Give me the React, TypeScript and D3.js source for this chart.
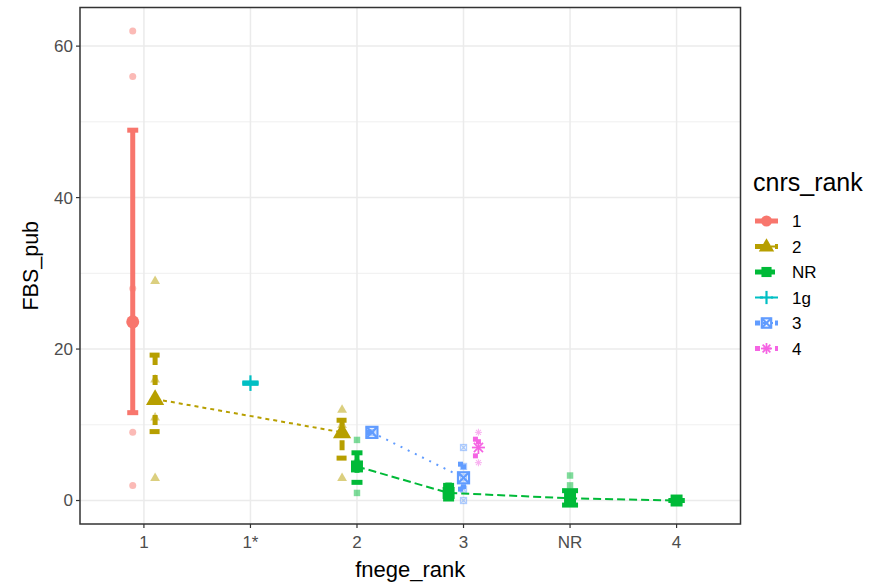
import * as d3 from "d3";

// categories on the x axis and the colour groups
const ranks = ["1", "1*", "2", "3", "NR", "4"];
const groups = ["1", "2", "NR", "1g", "3", "4"];
const groupColors = ["#F8766D", "#B79F00", "#00BA38", "#00BFC4", "#619CFF", "#F564E3"];
const groupDash = ["", "2 2", "4 2", "4 4", "1 3", "1 3 4 3"];

// summaries (mean and interval) per rank/group
const sumRank = ["1", "1", "1*", "2", "2", "2", "3", "3", "3", "NR", "4"];
const sumGroup = ["1", "2", "1g", "2", "NR", "3", "NR", "3", "4", "NR", "NR"];
const sumMean = [23.6, 13.4, 15.5, 9.0, 4.5, 9.0, 1.0, 3.0, 7.0, 0.3, 0];
const sumLow = [11.6, 9.1, 15.5, 5.6, 2.4, 9.0, 0.2, 1.5, 5.9, -0.6, 0];
const sumHigh = [48.9, 19.2, 15.5, 10.6, 6.3, 9.0, 2.0, 4.8, 8.1, 1.3, 0];

// raw observations
const rawRank = ["1", "1", "1", "1", "1", "1", "1", "1", "1", "1*", "2", "2", "2", "2", "2", "2", "2", "3", "3", "3", "3", "3", "3", "3", "3", "3", "3", "NR", "NR", "NR", "4"];
const rawGroup = ["1", "1", "1", "1", "1", "2", "2", "2", "2", "1g", "2", "2", "NR", "NR", "NR", "3", "2", "NR", "NR", "3", "3", "3", "3", "3", "4", "4", "4", "NR", "NR", "NR", "NR"];
const rawValue = [62, 56, 28, 9, 2, 29, 16, 11, 3, 15.5, 12, 3, 8, 1, 5, 9, 10, 2, 1, 7, 4.5, 3, 0, 1.5, 9, 7, 5, 3.3, 2, 1, 0];

const yTicks = [0, 20, 40, 60];
const yMinor = [10, 30, 50];

const W = 876;
const H = 586;
const panel = { left: 80, right: 740.5, top: 7.5, bottom: 524 };
const font = "'Liberation Sans', Arial, sans-serif";

const x = d3.scalePoint<string>().domain(ranks).range([panel.left, panel.right]).padding(0.6);
const step = x.step();
const y = d3.scaleLinear().domain([-3.1, 65.1]).range([panel.bottom, panel.top]);
const color = d3.scaleOrdinal<string, string>().domain(groups).range(groupColors);
const dashOf = (g: string, lw: number) => {
  const d = groupDash[groups.indexOf(g)];
  return d ? d.split(" ").map((v) => +v * lw).join(" ") : undefined;
};

// position_dodge: groups present at a rank share a 0.42 wide slot
const dodgeWidth = 0.42 * step;
function groupsAt(rank: string) {
  return groups.filter((g) => sumRank.some((r, i) => r === rank && sumGroup[i] === g));
}
function dodgeX(rank: string, group: string) {
  const present = groupsAt(rank);
  const w = dodgeWidth / present.length;
  return (x(rank) as number) - dodgeWidth / 2 + w * (present.indexOf(group) + 0.5);
}

function Shape({ g, cx, cy, s, fill, opacity = 1 }: { g: string; cx: number; cy: number; s: number; fill: string; opacity?: number }) {
  const h = s / 2;
  if (g === "1") return <circle cx={cx} cy={cy} r={h} fill={fill} opacity={opacity} />;
  if (g === "2") {
    const t = d3.symbol(d3.symbolTriangle, s * s * 0.85)();
    return <path d={t || ""} transform={`translate(${cx},${cy + s * 0.05})`} fill={fill} opacity={opacity} />;
  }
  if (g === "NR") return <rect x={cx - h * 0.92} y={cy - h * 0.92} width={s * 0.92} height={s * 0.92} fill={fill} opacity={opacity} />;
  const sw = s > 8 ? 2.2 : 1.3;
  if (g === "1g")
    return (
      <g stroke={fill} strokeWidth={sw} opacity={opacity}>
        <line x1={cx - h * 1.2} x2={cx + h * 1.2} y1={cy} y2={cy} />
        <line x1={cx} x2={cx} y1={cy - h * 1.2} y2={cy + h * 1.2} />
      </g>
    );
  if (g === "3") {
    const a = h * 0.85;
    return (
      <g stroke={fill} strokeWidth={sw} fill="none" opacity={opacity}>
        <rect x={cx - a} y={cy - a} width={2 * a} height={2 * a} />
        <line x1={cx - a} x2={cx + a} y1={cy - a} y2={cy + a} />
        <line x1={cx - a} x2={cx + a} y1={cy + a} y2={cy - a} />
      </g>
    );
  }
  const a = h * 1.0;
  return (
    <g stroke={fill} strokeWidth={sw * 0.8} opacity={opacity}>
      <line x1={cx - a} x2={cx + a} y1={cy} y2={cy} />
      <line x1={cx} x2={cx} y1={cy - a} y2={cy + a} />
      <line x1={cx - a * 0.7} x2={cx + a * 0.7} y1={cy - a * 0.7} y2={cy + a * 0.7} />
      <line x1={cx - a * 0.7} x2={cx + a * 0.7} y1={cy + a * 0.7} y2={cy - a * 0.7} />
    </g>
  );
}

export default function App() {
  const errLw = 5;
  const lineLw = 2;
  const line = d3.line<number>().x((i) => dodgeX(sumRank[i], sumGroup[i])).y((i) => y(sumMean[i]));

  return (
    <svg width={W} height={H} style={{ position: "absolute", left: 0, top: 0, background: "#fff" }} fontFamily={font}>
      {/* grid */}
      {yMinor.map((v) => (
        <line key={"m" + v} x1={panel.left} x2={panel.right} y1={y(v)} y2={y(v)} stroke="#ebebeb" strokeWidth={0.8} />
      ))}
      {yTicks.map((v) => (
        <line key={"y" + v} x1={panel.left} x2={panel.right} y1={y(v)} y2={y(v)} stroke="#ebebeb" strokeWidth={1.5} />
      ))}
      {ranks.map((r) => (
        <line key={"x" + r} x1={x(r)} x2={x(r)} y1={panel.top} y2={panel.bottom} stroke="#ebebeb" strokeWidth={1.5} />
      ))}

      {/* raw points */}
      {rawValue.map((v, i) => (
        <Shape key={"r" + i} g={rawGroup[i]} cx={dodgeX(rawRank[i], rawGroup[i])} cy={y(v)} s={7} fill={color(rawGroup[i])} opacity={0.5} />
      ))}

      {/* lines joining means */}
      {groups.map((g) => {
        const idx = sumMean.map((_, i) => i).filter((i) => sumGroup[i] === g);
        if (idx.length < 2) return null;
        return <path key={"l" + g} d={line(idx) || ""} fill="none" stroke={color(g)} strokeWidth={lineLw} strokeDasharray={dashOf(g, lineLw)} />;
      })}

      {/* error bars */}
      {sumMean.map((_, i) => {
        const g = sumGroup[i];
        const cx = dodgeX(sumRank[i], g);
        const half = groupsAt(sumRank[i]).length === 1 ? 8 : 5.5;
        const da = dashOf(g, errLw);
        return (
          <g key={"e" + i} stroke={color(g)} strokeWidth={errLw} strokeDasharray={da}>
            <line x1={cx - half} x2={cx + half} y1={y(sumHigh[i])} y2={y(sumHigh[i])} />
            <line x1={cx} x2={cx} y1={y(sumHigh[i])} y2={y(sumLow[i])} />
            <line x1={cx - half} x2={cx + half} y1={y(sumLow[i])} y2={y(sumLow[i])} />
          </g>
        );
      })}

      {/* means */}
      {sumMean.map((v, i) => (
        <Shape key={"p" + i} g={sumGroup[i]} cx={dodgeX(sumRank[i], sumGroup[i])} cy={y(v)} s={13} fill={color(sumGroup[i])} />
      ))}

      {/* panel border */}
      <rect x={panel.left} y={panel.top} width={panel.right - panel.left} height={panel.bottom - panel.top} fill="none" stroke="#333333" strokeWidth={1.5} />

      {/* y axis */}
      {yTicks.map((v) => (
        <g key={"yt" + v}>
          <line x1={panel.left - 4} x2={panel.left} y1={y(v)} y2={y(v)} stroke="#333333" strokeWidth={1.2} />
          <text x={panel.left - 7} y={y(v)} dy="0.35em" textAnchor="end" fontSize={17} fill="#4d4d4d">
            {v}
          </text>
        </g>
      ))}
      {/* x axis */}
      {ranks.map((r) => (
        <g key={"xt" + r}>
          <line x1={x(r)} x2={x(r)} y1={panel.bottom} y2={panel.bottom + 4} stroke="#333333" strokeWidth={1.2} />
          <text x={x(r)} y={panel.bottom + 24} textAnchor="middle" fontSize={17} fill="#4d4d4d">
            {r}
          </text>
        </g>
      ))}
      <text x={(panel.left + panel.right) / 2} y={577} textAnchor="middle" fontSize={22} fill="#000">
        fnege_rank
      </text>
      <text transform={`translate(38,${(panel.top + panel.bottom) / 2}) rotate(-90)`} textAnchor="middle" fontSize={21.5} fill="#000">
        FBS_pub
      </text>

      {/* legend */}
      <text x={753} y={191} fontSize={25} fill="#000">
        cnrs_rank
      </text>
      {groups.map((g, i) => {
        const ky = 221 + i * 25.5;
        const hasRange = sumGroup.some((sg, j) => sg === g && sumHigh[j] > sumLow[j]);
        return (
          <g key={"k" + g}>
            {hasRange && <line x1={755} x2={778} y1={ky} y2={ky} stroke={color(g)} strokeWidth={errLw} strokeDasharray={dashOf(g, errLw)} />}
            <line x1={755} x2={778} y1={ky} y2={ky} stroke={color(g)} strokeWidth={lineLw} strokeDasharray={dashOf(g, lineLw)} />
            <Shape g={g} cx={766.5} cy={ky} s={11} fill={color(g)} />
            <text x={792} y={ky} dy="0.36em" fontSize={17} fill="#000">
              {g}
            </text>
          </g>
        );
      })}
    </svg>
  );
}
